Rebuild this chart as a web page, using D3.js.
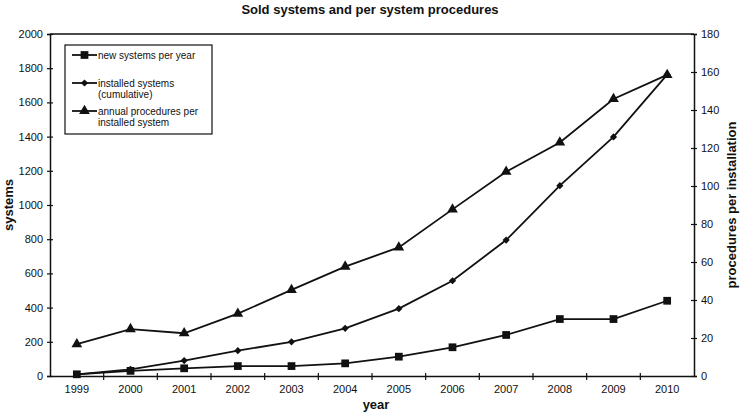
<!DOCTYPE html>
<html><head><meta charset="utf-8">
<script src="https://cdn.jsdelivr.net/npm/d3@7"></script>
<style>body{margin:0;background:#fff}svg{display:block}text{font-family:"Liberation Sans",Arial,sans-serif;fill:#111}</style>
</head><body>
<svg id="c" width="742" height="414"></svg>
<script>
const years = ["1999","2000","2001","2002","2003","2004","2005","2006","2007","2008","2009","2010"];
const newSystems = [10, 30, 45, 58, 58, 74, 113, 168, 240, 333, 333, 440];
const installedSystems = [10, 39, 90, 148, 200, 279, 394, 557, 795, 1113, 1398, 1762];
const proceduresPerSystem = [16.8, 24.7, 22.5, 32.8, 45.3, 57.6, 67.7, 87.7, 107.5, 122.9, 145.8, 158.5];
const leftTicks = [0,200,400,600,800,1000,1200,1400,1600,1800,2000];
const rightTicks = [0,20,40,60,80,100,120,140,160,180];
const legendLabels = [["new systems per year"],["installed systems","(cumulative)"],["annual procedures per","installed system"]];

const svg = d3.select("#c");
const L=50, R=694, T=34, B=376;
const x = d3.scaleBand().domain(years).range([L,R]);
const yL = d3.scaleLinear().domain([0,2000]).range([B,T]);
const yR = d3.scaleLinear().domain([0,180]).range([B,T]);
const cx = d => x(d)+x.bandwidth()/2;

svg.append("text").attr("x",370).attr("y",14).attr("text-anchor","middle")
  .attr("font-size",13).attr("font-weight","bold").text("Sold systems and per system procedures");

svg.append("line").attr("x1",L).attr("x2",R).attr("y1",T).attr("y2",T).attr("stroke","#111").attr("stroke-width",1.5);

const gl = svg.append("g").attr("transform",`translate(${L},0)`)
  .call(d3.axisLeft(yL).tickValues(leftTicks).tickSize(3).tickPadding(4).tickFormat(d3.format("d")));
gl.selectAll(".tick line").attr("x2",3).attr("x1",-3);
const gr = svg.append("g").attr("transform",`translate(${R},0)`)
  .call(d3.axisRight(yR).tickValues(rightTicks).tickSize(3).tickPadding(4).tickFormat(d3.format("d")));
gr.selectAll(".tick line").attr("x1",-3).attr("x2",3);
const gb = svg.append("g").attr("transform",`translate(0,${B})`)
  .call(d3.axisBottom(x).tickSize(0).tickPadding(9));
gb.selectAll(".tick").filter((d,i)=>i>0).append("line")
  .attr("x1",-x.bandwidth()/2).attr("x2",-x.bandwidth()/2).attr("y1",-3).attr("y2",4).attr("stroke","#111").attr("stroke-width",1.2);

[gl,gr,gb].forEach(g=>{
  g.select(".domain").attr("stroke","#111").attr("stroke-width",1.5);
  g.selectAll(".tick line").attr("stroke","#111").attr("stroke-width",1.2);
  g.selectAll("text").attr("font-size",11).attr("font-family","'Liberation Sans',Arial,sans-serif").attr("fill","#111");
});

svg.append("text").attr("transform","translate(13,205) rotate(-90)").attr("text-anchor","middle")
  .attr("font-size",13).attr("font-weight","bold").text("systems");
svg.append("text").attr("transform","translate(736,205) rotate(-90)").attr("text-anchor","middle")
  .attr("font-size",13).attr("font-weight","bold").text("procedures per installation");
svg.append("text").attr("x",376).attr("y",409).attr("text-anchor","middle")
  .attr("font-size",13).attr("font-weight","bold").text("year");

const sym = {
  square: {p: d3.symbol().type(d3.symbolSquare).size(60), r: 0},
  diamond: {p: d3.symbol().type(d3.symbolSquare).size(26), r: 45},
  triangle: {p: d3.symbol().type(d3.symbolTriangle).size(50), r: 0}
};
const series = [
  {vals:newSystems, y:yL, m:"square"},
  {vals:installedSystems, y:yL, m:"diamond"},
  {vals:proceduresPerSystem, y:yR, m:"triangle"}
];
series.forEach(s=>{
  const line = d3.line().x((d,i)=>cx(years[i])).y(d=>s.y(d));
  svg.append("path").datum(s.vals).attr("d",line).attr("fill","none").attr("stroke","#111").attr("stroke-width",1.8);
  svg.selectAll(null).data(s.vals).enter().append("path")
    .attr("d",sym[s.m].p).attr("transform",(d,i)=>`translate(${cx(years[i])},${s.y(d)}) rotate(${sym[s.m].r})`).attr("fill","#111");
});

const lg = svg.append("g");
lg.append("rect").attr("x",65).attr("y",45).attr("width",147).attr("height",89).attr("fill","#fff").attr("stroke","#111").attr("stroke-width",1.2);
const ly = [55,83,111];
legendLabels.forEach((lab,i)=>{
  lg.append("line").attr("x1",72).attr("x2",97).attr("y1",ly[i]).attr("y2",ly[i]).attr("stroke","#111").attr("stroke-width",1.8);
  const m = sym[series[i].m];
  lg.append("path").attr("d",m.p).attr("transform",`translate(84.5,${ly[i]}) rotate(${m.r})`).attr("fill","#111");
  lab.forEach((t,j)=>{
    lg.append("text").attr("x",98).attr("y",ly[i]+4+j*11).attr("font-size",10).text(t);
  });
});
</script>
</body></html>
